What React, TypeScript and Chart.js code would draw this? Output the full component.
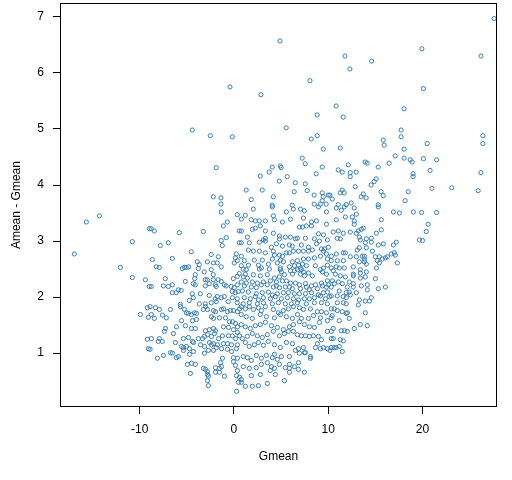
import React, { useEffect, useRef } from 'react';
import { Chart, registerables } from 'chart.js';

Chart.register(...registerables);

// Axis ticks
const xTicks = [-10, 0, 10, 20];
const yTicks = [1, 2, 3, 4, 5, 6, 7];
const xLabel = 'Gmean';
const yLabel = 'Amean - Gmean';

// [Gmean, Amean - Gmean], grouped by region
const sparseTop: [number, number][] = [
  [27.6, 6.97], [4.88, 6.57], [11.77, 6.30], [19.93, 6.43], [12.3, 6.07], [26.2, 6.30], [14.6, 6.21],
  [-0.42, 5.75], [2.86, 5.61], [20.1, 5.72], [8.06, 5.86],
  [-4.42, 4.98], [-2.51, 4.88], [-0.18, 4.86], [-1.88, 4.31], [-2.19, 3.79], [-1.38, 3.77], [-1.38, 3.66],
];

const leftTail: [number, number][] = [
  [-15.66, 3.34], [-14.28, 3.45], [-8.98, 3.22], [-10.78, 2.99], [-16.93, 2.77], [-12.05, 2.53],
  [-10.78, 2.35], [-9.40, 2.31], [-8.98, 2.19],
  [-9.19, 1.81], [-9.93, 1.69], [-9.08, 1.64], [-9.19, 1.25], [-9.08, 1.08],
];

const rightTail: [number, number][] = [
  [26.4, 4.88], [26.4, 4.74], [26.2, 4.22], [25.9, 3.90], [20.5, 4.74], [20.1, 4.47], [21.5, 4.45],
  [20.8, 4.26], [21.0, 3.94], [23.1, 3.95], [21.5, 3.51], [19.9, 3.51], [20.4, 3.17], [20.0, 3.01],
  [20.6, 3.30],
];

const upperMiddle: [number, number][] = [
  [8.83, 5.25], [5.54, 5.02], [8.19, 4.82], [8.83, 4.88], [9.47, 4.64], [7.24, 4.48], [7.56, 4.38],
  [9.36, 4.32], [8.72, 4.20], [4.06, 4.32], [4.91, 4.34], [5.01, 4.31], [3.74, 4.23], [2.79, 4.16],
  [5.65, 4.15], [4.80, 4.07], [6.50, 4.04], [7.56, 4.02], [1.30, 3.91], [3.0, 3.91], [6.39, 3.88],
  [7.77, 3.90], [8.51, 3.82], [9.36, 3.86], [10.0, 3.82], [9.47, 3.79], [1.83, 3.74], [4.17, 3.79],
  [9.36, 3.72], [4.06, 3.64], [6.18, 3.64], [8.51, 3.66], [9.15, 3.66], [9.78, 3.66],
  [10.84, 5.41], [18.05, 5.36], [11.59, 5.21], [17.73, 4.98], [17.73, 4.86], [15.83, 4.80], [15.93, 4.71],
  [11.27, 4.66], [18.05, 4.64], [17.10, 4.52], [18.05, 4.48], [18.69, 4.45], [18.90, 4.41], [16.46, 4.39],
  [13.92, 4.41], [14.13, 4.39], [15.30, 4.32], [12.12, 4.36], [11.06, 4.27], [11.48, 4.23], [12.33, 4.22],
  [12.96, 4.23], [12.33, 4.15], [19.0, 4.20], [19.0, 4.15], [15.08, 4.11], [14.87, 4.06], [14.55, 4.00],
  [12.86, 3.97], [11.48, 3.91], [11.27, 3.86], [11.69, 3.86], [15.61, 3.88], [15.83, 3.81], [18.48, 3.88],
  [13.71, 3.84], [13.49, 3.79], [14.02, 3.77], [10.18, 3.82], [10.42, 3.75], [18.16, 3.72], [11.06, 3.65],
  [11.90, 3.65], [12.43, 3.68], [15.30, 3.65],
];

const middleLeft: [number, number][] = [
  [-1.35, 3.52], [0.35, 3.47], [-0.71, 3.34], [-1.13, 3.27], [-8.77, 3.22], [-8.45, 3.18], [-5.80, 3.15],
  [-3.25, 3.17], [0.56, 3.18], [-0.82, 3.06], [-1.35, 3.01], [-1.24, 2.92], [0.56, 2.97], [-7.81, 2.92],
  [-6.96, 2.97], [-4.53, 2.81], [-2.41, 2.76], [-1.66, 2.72], [0.24, 2.77], [0.14, 2.70], [0.35, 2.65],
  [-8.66, 2.67], [-6.54, 2.69], [-3.89, 2.63], [-2.83, 2.63], [-2.19, 2.61], [-1.77, 2.61], [-3.68, 2.58],
  [-1.35, 2.54], [-3.78, 2.51], [-5.27, 2.53], [-5.48, 2.51], [-5.06, 2.53], [-4.80, 2.54], [-8.24, 2.54],
  [-7.92, 2.53], [0.03, 2.61], [-2.41, 2.49], [-3.15, 2.45], [-7.28, 2.33], [-5.16, 2.28], [-4.10, 2.40],
  [-4.17, 2.33], [-4.31, 2.24], [-3.04, 2.31], [-2.83, 2.31], [-2.19, 2.40], [-2.19, 2.31], [-1.66, 2.31],
  [-1.35, 2.28], [-1.03, 2.22], [-0.82, 2.20], [-0.07, 2.33], [0.35, 2.37], [0.56, 2.42], [-8.77, 2.19],
  [-7.49, 2.20], [-6.96, 2.19], [-6.54, 2.22], [-5.90, 2.13], [-6.12, 2.08], [-6.54, 2.08], [-5.59, 2.12],
  [-4.10, 2.22], [-3.04, 2.20], [-2.62, 2.24], [-1.98, 2.22], [-1.88, 2.19], [-0.29, 2.19], [0.03, 2.17],
  [0.35, 2.22], [-0.18, 2.10], [0.14, 2.08], [0.46, 2.10], [-4.42, 2.06], [-3.57, 2.06], [-4.31, 1.99],
  [-2.62, 2.03], [-1.77, 2.01], [-1.98, 1.97], [-1.35, 1.99], [-1.03, 2.01], [-0.18, 1.99], [0.35, 1.97],
  [-4.74, 1.94], [-3.68, 1.88], [-3.04, 1.88], [-2.41, 1.90], [-0.61, 1.92], [0.35, 1.90], [-5.69, 1.87],
  [-1.88, 1.92],
];

const middleCentre: [number, number][] = [
  [2.05, 3.57], [4.07, 3.61], [5.56, 3.52], [6.30, 3.57], [7.05, 3.57], [7.47, 3.54], [8.96, 3.61], [9.81, 3.52],
  [1.21, 3.46], [4.18, 3.45], [0.78, 3.39], [1.84, 3.38], [2.27, 3.36], [2.69, 3.36], [3.33, 3.36], [4.29, 3.38],
  [5.14, 3.34], [5.99, 3.39], [7.37, 3.41], [8.22, 3.34], [8.75, 3.36], [8.22, 3.27], [9.81, 3.30], [6.94, 3.25],
  [7.26, 3.25], [7.68, 3.27], [1.95, 3.21], [2.27, 3.23], [3.33, 3.18], [0.78, 3.18], [2.80, 3.27], [4.18, 3.14],
  [4.82, 3.09], [4.82, 3.04], [5.45, 3.07], [5.99, 3.07], [6.52, 3.04], [6.73, 3.05], [7.58, 3.05], [8.53, 3.04],
  [8.96, 3.13], [9.49, 3.11], [9.07, 3.00], [9.91, 3.02], [1.42, 3.07], [1.63, 2.97], [2.69, 2.98], [3.12, 3.02],
  [3.33, 3.00], [3.33, 3.05], [3.97, 2.89], [0.78, 2.97], [4.50, 2.95], [5.14, 2.91], [5.88, 2.93], [6.20, 2.91],
  [7.15, 2.93], [7.90, 2.89], [8.75, 2.95], [9.28, 2.86], [9.60, 2.86], [10.02, 2.89], [9.49, 2.82], [1.53, 2.84],
  [2.06, 2.82], [2.69, 2.82], [3.33, 2.79], [4.18, 2.82], [4.29, 2.75], [4.82, 2.75], [5.14, 2.73], [5.56, 2.79],
  [5.88, 2.79], [6.30, 2.82], [6.84, 2.82], [7.37, 2.82], [7.90, 2.82], [8.32, 2.84], [0.78, 2.73], [1.10, 2.65],
  [2.16, 2.66], [3.01, 2.66], [4.07, 2.68], [4.92, 2.66], [5.24, 2.63], [6.20, 2.63], [6.73, 2.65], [7.37, 2.68],
  [7.90, 2.68], [8.53, 2.70], [9.17, 2.73], [9.81, 2.77], [9.91, 2.68], [0.78, 2.56], [1.53, 2.57], [2.59, 2.57],
  [3.65, 2.59], [4.60, 2.61], [4.92, 2.52], [5.88, 2.54], [6.41, 2.56], [6.84, 2.57], [7.05, 2.52], [7.26, 2.59],
  [7.68, 2.56], [8.64, 2.56], [9.49, 2.52], [9.91, 2.57], [0.99, 2.50], [1.31, 2.49], [2.69, 2.50], [2.91, 2.52],
  [3.76, 2.50], [4.92, 2.49], [5.03, 2.45], [5.99, 2.47], [6.41, 2.47], [6.73, 2.49], [7.15, 2.49], [7.37, 2.45],
  [7.90, 2.43], [8.32, 2.38], [9.17, 2.49], [9.38, 2.45], [9.81, 2.41], [1.21, 2.41], [0.99, 2.36], [1.42, 2.34],
  [2.06, 2.40], [2.80, 2.38], [3.54, 2.40], [4.29, 2.34], [4.82, 2.36], [5.35, 2.40], [6.20, 2.41], [7.05, 2.41],
  [7.47, 2.38], [0.78, 2.27], [1.31, 2.25], [1.95, 2.27], [2.48, 2.25], [3.12, 2.27], [3.86, 2.29], [4.50, 2.27],
  [5.14, 2.29], [5.56, 2.29], [5.99, 2.25], [6.52, 2.25], [6.94, 2.22], [7.58, 2.24], [8.22, 2.20], [8.64, 2.22],
  [9.28, 2.25], [9.91, 2.29], [1.10, 2.20], [1.84, 2.18], [2.37, 2.17], [2.91, 2.22], [3.54, 2.22], [4.18, 2.18],
  [4.50, 2.20], [4.82, 2.17], [5.45, 2.18], [5.88, 2.18], [6.20, 2.15], [7.05, 2.15], [7.68, 2.18], [8.00, 2.13],
  [8.85, 2.15], [9.38, 2.20], [9.81, 2.18], [10.02, 2.22], [0.89, 2.11], [1.53, 2.09], [2.37, 2.06], [3.01, 2.08],
  [3.65, 2.09], [4.07, 2.04], [4.60, 2.06], [5.24, 2.08], [5.77, 2.08], [6.41, 2.06], [6.94, 2.06], [7.58, 2.06],
  [8.22, 2.08], [8.96, 2.04], [9.49, 2.08], [9.91, 2.09], [1.10, 1.99], [1.74, 1.97], [2.27, 2.01], [2.59, 1.95],
  [3.12, 1.99], [3.86, 1.97], [4.39, 2.01], [5.03, 1.97], [5.67, 1.99], [6.30, 1.97], [6.84, 1.95], [7.47, 1.97],
  [8.00, 1.97], [8.53, 1.99], [9.17, 2.02], [9.70, 1.97], [10.13, 2.01], [0.99, 1.88], [1.63, 1.90], [2.48, 1.88],
  [3.12, 1.90], [4.07, 1.88], [4.71, 1.90], [5.45, 1.88], [6.09, 1.88], [6.73, 1.90], [7.68, 1.88], [8.53, 1.90],
  [9.28, 1.90], [9.91, 1.88],
];

const middleRight: [number, number][] = [
  [10.85, 3.59], [11.38, 3.55], [11.70, 3.61], [12.76, 3.59], [15.31, 3.61], [12.98, 3.48], [16.91, 3.52],
  [17.54, 3.50], [19.03, 3.52], [10.85, 3.38], [11.81, 3.43], [12.55, 3.43], [12.76, 3.36], [12.76, 3.30],
  [15.63, 3.38], [10.53, 3.16], [11.07, 3.18], [11.60, 3.14], [12.34, 3.16], [12.98, 3.14], [13.19, 3.18],
  [13.51, 3.21], [13.72, 3.23], [15.63, 3.20], [15.10, 3.14], [10.96, 3.05], [11.28, 3.04], [13.30, 3.07],
  [13.40, 3.02], [14.04, 3.04], [14.57, 3.05], [13.93, 2.97], [14.57, 2.98], [15.84, 2.95], [15.31, 2.93],
  [16.91, 2.93], [17.22, 2.98], [19.67, 3.02], [13.08, 2.84], [13.30, 2.88], [14.04, 2.88], [14.68, 2.82],
  [11.60, 2.79], [11.81, 2.79], [10.85, 2.77], [15.42, 2.72], [16.27, 2.72], [16.69, 2.77], [17.01, 2.79],
  [17.12, 2.75], [10.32, 2.73], [12.34, 2.72], [12.98, 2.72], [13.61, 2.73], [13.83, 2.73], [13.83, 2.68],
  [15.00, 2.72], [15.74, 2.68], [16.06, 2.70], [10.96, 2.65], [10.85, 2.54], [10.32, 2.65], [10.32, 2.52],
  [11.60, 2.65], [13.30, 2.63], [13.83, 2.63], [14.04, 2.59], [15.21, 2.65], [15.42, 2.61], [15.10, 2.52],
  [17.33, 2.61], [12.66, 2.54], [11.17, 2.52], [11.70, 2.52], [13.40, 2.49], [10.53, 2.47], [10.75, 2.41],
  [11.28, 2.38], [11.81, 2.36], [12.66, 2.41], [12.66, 2.38], [13.40, 2.43], [14.04, 2.45], [13.40, 2.34],
  [13.93, 2.36], [15.00, 2.33], [10.43, 2.29], [10.64, 2.24], [11.07, 2.27], [11.49, 2.24], [12.23, 2.27],
  [12.66, 2.24], [12.66, 2.18], [12.02, 2.18], [10.32, 2.18], [13.51, 2.20], [14.14, 2.22], [15.31, 2.15],
  [16.06, 2.18], [14.14, 2.13], [11.17, 2.11], [11.91, 2.08], [12.23, 2.09], [12.98, 2.08], [10.32, 2.02],
  [10.96, 2.02], [11.60, 2.01], [11.91, 1.99], [12.34, 2.04], [13.30, 1.95], [13.93, 1.93], [14.57, 1.99],
  [14.36, 1.93], [10.96, 1.90], [11.60, 1.90], [11.91, 1.88], [13.19, 1.86],
];

const lowerLeft: [number, number][] = [
  [-8.90, 1.83], [-8.33, 1.81], [-7.91, 1.78], [-7.59, 1.68], [-7.17, 1.63], [-6.74, 1.78], [-5.68, 1.83],
  [-5.25, 1.78], [-5.04, 1.72], [-4.83, 1.71], [-4.51, 1.69], [-4.19, 1.72], [-3.98, 1.71], [-4.40, 1.58],
  [-3.98, 1.60], [-3.24, 1.78], [-3.02, 1.83], [-2.81, 1.78], [-2.17, 1.76], [-1.96, 1.74], [-1.32, 1.78],
  [-1.11, 1.79], [-0.69, 1.74], [-0.37, 1.76], [-0.05, 1.76], [0.37, 1.74], [0.59, 1.79], [-8.44, 1.62],
  [-8.76, 1.69], [-5.57, 1.58], [-5.15, 1.49], [-6.10, 1.47], [-7.27, 1.44], [-7.38, 1.39], [-6.42, 1.35],
  [-4.51, 1.44], [-4.09, 1.44], [-3.02, 1.40], [-2.60, 1.42], [-2.17, 1.44], [-1.96, 1.40], [-2.39, 1.65],
  [-2.17, 1.62], [-1.54, 1.63], [-0.90, 1.63], [-0.47, 1.56], [-0.16, 1.56], [0.16, 1.53], [0.37, 1.47],
  [-0.05, 1.42], [0.37, 1.37], [0.59, 1.31], [-0.58, 1.46], [-1.11, 1.47], [-8.76, 1.26], [-7.91, 1.26],
  [-7.59, 1.21], [-8.02, 1.21], [-5.36, 1.26], [-4.83, 1.28], [-4.40, 1.21], [-3.77, 1.26], [-3.34, 1.26],
  [-3.13, 1.30], [-2.81, 1.33], [-2.39, 1.30], [-2.07, 1.35], [-1.64, 1.26], [-1.22, 1.31], [-0.58, 1.31],
  [-0.16, 1.31], [0.16, 1.26], [-6.21, 1.19], [-5.57, 1.12], [-5.36, 1.10], [-5.04, 1.12], [-4.72, 1.08],
  [-4.30, 1.19], [-3.55, 1.15], [-3.13, 1.12], [-2.60, 1.19], [-2.39, 1.15], [-2.17, 1.17], [-1.75, 1.15],
  [-1.11, 1.17], [-0.69, 1.17], [-0.26, 1.15], [0.37, 1.15], [-8.90, 1.07], [-8.12, 0.91], [-7.48, 0.96],
  [-6.74, 1.01], [-6.53, 1.00], [-6.10, 0.92], [-5.89, 0.94], [-5.36, 1.05], [-4.72, 0.98], [-4.30, 1.03],
  [-3.13, 1.00], [-2.71, 1.05], [-2.17, 1.05], [-1.86, 1.10], [-1.32, 1.08], [-0.69, 1.07], [-0.26, 1.03],
  [0.27, 1.08], [-0.05, 0.92], [0.37, 0.91], [-0.05, 0.85], [0.16, 0.78], [-1.22, 0.91], [-1.43, 0.83],
  [-1.32, 0.76], [-1.96, 0.74], [-1.54, 0.73], [-1.96, 0.66], [-1.54, 0.66], [-3.24, 0.73], [-3.02, 0.71],
  [-2.81, 0.67], [-2.81, 0.62], [-2.71, 0.59], [-2.81, 0.51], [-2.71, 0.42], [-4.94, 0.80], [-4.51, 0.82],
  [-4.09, 0.80], [-4.62, 0.64], [-1.01, 0.59], [0.37, 0.69], [0.27, 0.60], [0.59, 0.57], [0.48, 0.48],
  [0.27, 0.32],
];

const lowerCentre: [number, number][] = [
  [0.78, 1.83], [1.21, 1.79], [1.63, 1.83], [2.06, 1.78], [2.59, 1.81], [2.91, 1.76], [3.33, 1.83], [4.18, 1.78],
  [4.71, 1.72], [5.24, 1.76], [5.77, 1.79], [6.30, 1.83], [6.94, 1.81], [7.37, 1.78], [8.11, 1.79], [8.85, 1.74],
  [9.28, 1.74], [9.81, 1.72], [9.17, 1.63], [9.91, 1.58], [0.78, 1.69], [1.31, 1.65], [1.95, 1.62], [2.80, 1.69],
  [3.44, 1.65], [4.29, 1.63], [4.92, 1.69], [5.56, 1.65], [6.20, 1.62], [6.73, 1.69], [7.15, 1.62], [7.90, 1.62],
  [8.43, 1.67], [0.78, 1.51], [1.21, 1.47], [1.74, 1.44], [2.27, 1.49], [2.80, 1.51], [3.33, 1.55], [3.97, 1.49],
  [4.60, 1.46], [5.24, 1.42], [5.88, 1.47], [6.30, 1.51], [6.94, 1.56], [7.47, 1.51], [8.00, 1.47], [8.53, 1.46],
  [9.07, 1.55], [9.91, 1.39], [0.89, 1.26], [1.42, 1.30], [1.95, 1.35], [2.48, 1.31], [3.01, 1.28], [3.54, 1.33],
  [4.18, 1.39], [4.82, 1.31], [5.35, 1.35], [5.77, 1.39], [6.30, 1.39], [6.73, 1.33], [7.15, 1.31], [7.58, 1.31],
  [8.00, 1.30], [8.43, 1.31], [8.96, 1.30], [9.28, 1.24], [1.21, 1.19], [1.63, 1.12], [2.16, 1.15], [2.59, 1.19],
  [3.12, 1.14], [3.65, 1.21], [4.29, 1.15], [4.92, 1.10], [5.56, 1.19], [6.20, 1.17], [6.52, 1.05], [6.84, 1.08],
  [7.37, 1.10], [7.58, 1.01], [8.11, 0.94], [8.11, 0.91], [8.64, 1.10], [8.85, 1.17], [9.17, 1.08], [9.49, 1.10],
  [9.91, 1.08], [0.99, 0.94], [1.42, 0.92], [1.84, 0.87], [2.37, 0.96], [2.91, 0.91], [3.44, 0.96], [4.07, 0.92],
  [4.29, 0.98], [4.60, 0.89], [5.03, 0.94], [5.88, 0.94], [6.94, 1.00], [7.47, 1.01], [2.91, 0.80], [3.54, 0.83],
  [3.97, 0.76], [4.29, 0.73], [3.86, 0.69], [4.82, 0.80], [5.45, 0.74], [5.88, 0.80], [5.88, 0.73], [5.88, 0.66],
  [6.41, 0.76], [6.84, 0.83], [6.84, 0.71], [7.47, 0.66], [0.99, 0.76], [1.63, 0.73], [2.37, 0.74], [2.80, 0.62],
  [1.84, 0.60], [4.39, 0.62], [0.78, 0.53], [0.78, 0.48], [1.21, 0.41], [1.95, 0.41], [2.59, 0.42], [3.54, 0.46],
  [5.35, 0.51],
];

const lowerRight: [number, number][] = [
  [10.32, 1.79], [10.64, 1.79], [10.96, 1.76], [11.49, 1.74], [11.91, 1.71], [12.02, 1.72], [13.93, 1.72],
  [10.43, 1.67], [11.17, 1.58], [12.23, 1.62], [10.32, 1.63], [10.53, 1.44], [10.32, 1.39], [11.38, 1.40],
  [11.70, 1.40], [12.02, 1.39], [12.76, 1.44], [13.40, 1.51], [14.14, 1.49], [10.32, 1.26], [10.53, 1.26],
  [11.28, 1.24], [11.60, 1.22], [10.32, 1.10], [10.64, 1.10], [10.85, 1.10], [11.17, 1.12], [11.49, 1.03],
  [10.18, 1.05],
];

const allPoints = [
  ...sparseTop, ...leftTail, ...rightTail, ...upperMiddle, ...middleLeft, ...middleCentre,
  ...middleRight, ...lowerLeft, ...lowerCentre, ...lowerRight,
];

const FONT = '"Liberation Sans", Arial, Helvetica, sans-serif';

const boxPlugin = {
  id: 'rBox',
  afterDraw(chart: any) {
    const { ctx, chartArea } = chart;
    const l = Math.round(chartArea.left);
    const t = Math.round(chartArea.top);
    const r = Math.round(chartArea.right);
    const b = Math.round(chartArea.bottom);
    ctx.save();
    ctx.strokeStyle = '#000';
    ctx.lineWidth = 1;
    ctx.strokeRect(l + 0.5, t + 0.5, r - l - 1, b - t - 1);
    ctx.restore();
  },
};

export default function App() {
  const ref = useRef<HTMLCanvasElement | null>(null);

  useEffect(() => {
    if (!ref.current) return;
    const chart = new Chart(ref.current, {
      type: 'scatter',
      data: {
        datasets: [
          {
            data: allPoints.map(([x, y]) => ({ x, y })),
            pointStyle: 'circle',
            pointRadius: 2.1,
            pointHoverRadius: 2.1,
            borderWidth: 1,
            borderColor: '#377EB8',
            backgroundColor: 'rgba(0,0,0,0)',
          },
        ],
      },
      options: {
        animation: false,
        responsive: false,
        events: [],
        layout: { padding: { top: 2, right: 15, left: 0, bottom: 0 } },
        plugins: {
          legend: { display: false },
          tooltip: { enabled: false },
        },
        scales: {
          x: {
            type: 'linear',
            min: -18.45,
            max: 27.9,
            afterBuildTicks: (s: any) => {
              s.ticks = xTicks.map((v) => ({ value: v }));
            },
            afterFit: (s: any) => {
              s.height = 73;
              s.paddingLeft = 0;
              s.paddingRight = 0;
            },
            grid: {
              display: true,
              drawOnChartArea: false,
              drawTicks: true,
              tickLength: 7,
              color: '#000',
              lineWidth: 1,
            },
            border: { display: false },
            ticks: {
              color: '#000',
              font: { family: FONT, size: 12 },
              padding: 8,
              maxRotation: 0,
              autoSkip: false,
            },
            title: {
              display: true,
              text: xLabel,
              color: '#000',
              font: { family: FONT, size: 12 },
              padding: { top: 0, bottom: 16 },
            },
          },
          y: {
            type: 'linear',
            min: 0.04,
            max: 7.245,
            afterBuildTicks: (s: any) => {
              s.ticks = yTicks.map((v) => ({ value: v }));
            },
            afterFit: (s: any) => {
              s.width = 60;
              s.paddingTop = 0;
              s.paddingBottom = 0;
            },
            grid: {
              display: true,
              drawOnChartArea: false,
              drawTicks: true,
              tickLength: 7,
              color: '#000',
              lineWidth: 1,
            },
            border: { display: false },
            ticks: {
              color: '#000',
              font: { family: FONT, size: 12 },
              padding: 9,
              autoSkip: false,
            },
            title: {
              display: true,
              text: yLabel,
              color: '#000',
              font: { family: FONT, size: 12 },
              padding: { top: 9, bottom: 0 },
            },
          },
        },
      },
      plugins: [boxPlugin],
    });
    return () => chart.destroy();
  }, []);

  return (
    <div style={{ position: 'fixed', left: 0, top: 0, width: 512, height: 480, background: '#fff' }}>
      <canvas ref={ref} width={512} height={480} style={{ display: 'block', width: 512, height: 480 }} />
    </div>
  );
}
